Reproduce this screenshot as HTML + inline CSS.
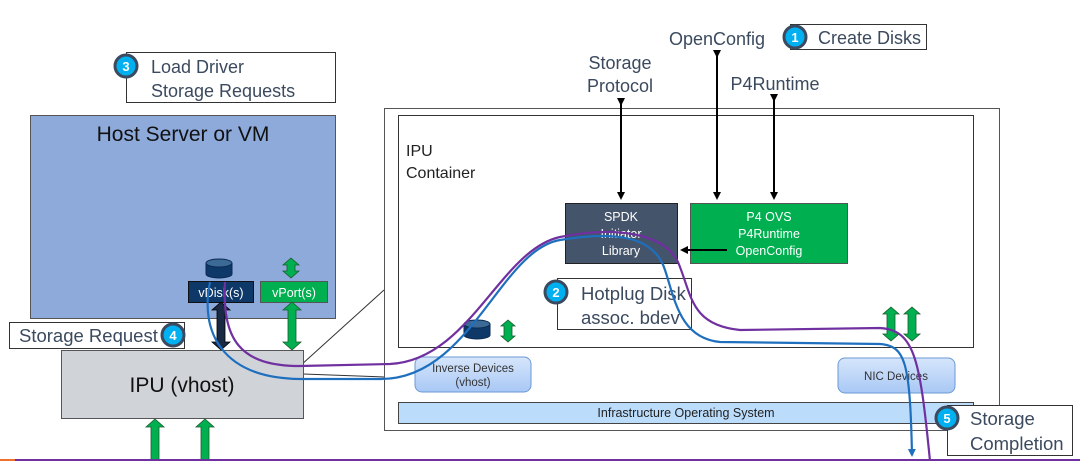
<!DOCTYPE html>
<html><head><style>
body{margin:0;width:1080px;height:461px;overflow:hidden;background:#fff;font-family:"Liberation Sans",sans-serif;}
</style></head><body>
<svg width="1080" height="461" viewBox="0 0 1080 461" xmlns="http://www.w3.org/2000/svg" font-family="Liberation Sans, sans-serif">
<defs>
<marker id="ah" markerWidth="8" markerHeight="8" refX="6" refY="4" orient="auto" markerUnits="userSpaceOnUse"><path d="M0,0 L8,4 L0,8 z" fill="#000"/></marker>
<marker id="ahb" markerWidth="8" markerHeight="8" refX="6" refY="4" orient="auto" markerUnits="userSpaceOnUse"><path d="M0,0 L8,4 L0,8 z" fill="#1f6fbf"/></marker>
<linearGradient id="bg" x1="0" y1="0" x2="0" y2="1"><stop offset="0" stop-color="#d6e6fb"/><stop offset="1" stop-color="#a9c8f5"/></linearGradient>
</defs>
<rect x="384.5" y="108.5" width="615" height="322" fill="#fff" stroke="#555"/>
<rect x="398.5" y="115.5" width="575" height="232" fill="#fff" stroke="#333"/>
<text x="406" y="156" font-size="16" fill="#222">IPU</text>
<text x="406" y="178" font-size="16" fill="#222">Container</text>
<rect x="398.5" y="402.5" width="575" height="21" fill="#bcdcfb" stroke="#444"/>
<text x="686" y="417" font-size="12.5" text-anchor="middle" fill="#222">Infrastructure Operating System</text>
<rect x="415" y="357" width="116" height="35" rx="7" fill="url(#bg)" stroke="#6a9ad4"/>
<text x="473" y="372" font-size="11.5" text-anchor="middle" fill="#333">Inverse Devices</text>
<text x="473" y="386" font-size="11.5" text-anchor="middle" fill="#333">(vhost)</text>
<rect x="838" y="358" width="117" height="35" rx="7" fill="url(#bg)" stroke="#6a9ad4"/>
<text x="896" y="380" font-size="11.5" text-anchor="middle" fill="#333">NIC Devices</text>
<rect x="30.5" y="115.5" width="305" height="203" fill="#8eaadb" stroke="#555"/>
<text x="183" y="141" font-size="21" text-anchor="middle" fill="#111">Host Server or VM</text>
<rect x="188.5" y="281.5" width="65" height="21" fill="#0d3868" stroke="#111"/>
<text x="221" y="297" font-size="12.5" text-anchor="middle" fill="#fff">vDisk(s)</text>
<rect x="260.5" y="281.5" width="67" height="21" fill="#00b050" stroke="#555"/>
<text x="294" y="297" font-size="12.5" text-anchor="middle" fill="#fff">vPort(s)</text>
<line x1="290" y1="375" x2="384" y2="290" stroke="#333"/>
<line x1="303" y1="374" x2="384" y2="377" stroke="#333"/>
<rect x="61.5" y="350.5" width="242" height="68" fill="#d0d4d9" stroke="#555"/>
<text x="182" y="392" font-size="21" text-anchor="middle" fill="#111">IPU (vhost)</text>
<rect x="565.5" y="203.5" width="112" height="60" fill="#44546a" stroke="#222"/>
<text x="621" y="221" font-size="12.5" text-anchor="middle" fill="#fff">SPDK</text>
<text x="621" y="238" font-size="12.5" text-anchor="middle" fill="#fff">Initiator</text>
<text x="621" y="255" font-size="12.5" text-anchor="middle" fill="#fff">Library</text>
<rect x="690.5" y="203.5" width="157" height="60" fill="#00b050" stroke="#555"/>
<text x="769" y="221" font-size="12.5" text-anchor="middle" fill="#fff">P4 OVS</text>
<text x="769" y="238" font-size="12.5" text-anchor="middle" fill="#fff">P4Runtime</text>
<text x="769" y="255" font-size="12.5" text-anchor="middle" fill="#fff">OpenConfig</text>
<line x1="621" y1="104" x2="621" y2="198" stroke="#000" stroke-width="2" marker-start="url(#ah)" marker-end="url(#ah)"/>
<line x1="717" y1="56" x2="717" y2="198" stroke="#000" stroke-width="2" marker-start="url(#ah)" marker-end="url(#ah)"/>
<line x1="774" y1="100" x2="774" y2="198" stroke="#000" stroke-width="2" marker-start="url(#ah)" marker-end="url(#ah)"/>
<line x1="727" y1="250" x2="682" y2="250" stroke="#000" stroke-width="2" marker-end="url(#ah)"/>
<text x="620" y="69" font-size="18" text-anchor="middle" fill="#3b4a5e">Storage</text>
<text x="620" y="92" font-size="18" text-anchor="middle" fill="#3b4a5e">Protocol</text>
<text x="717" y="45" font-size="18" text-anchor="middle" fill="#3b4a5e">OpenConfig</text>
<text x="775" y="90" font-size="18" text-anchor="middle" fill="#3b4a5e">P4Runtime</text>
<rect x="790.5" y="24.5" width="136" height="25" fill="#fff" stroke="#333"/>
<text x="818" y="44" font-size="18" fill="#3b4a5e">Create Disks</text>
<rect x="126.5" y="52.5" width="209" height="50" fill="#fff" stroke="#333"/>
<text x="151" y="73" font-size="18" fill="#3b4a5e">Load Driver</text>
<text x="151" y="97" font-size="18" fill="#3b4a5e">Storage Requests</text>
<rect x="9.5" y="322.5" width="175" height="26" fill="#fff" stroke="#333"/>
<text x="19" y="342" font-size="18.5" fill="#3b4a5e">Storage Request</text>
<rect x="557.5" y="278.5" width="134" height="51" fill="#fff" stroke="#333"/>
<text x="581" y="300" font-size="18.5" fill="#3b4a5e">Hotplug Disk</text>
<text x="581" y="324" font-size="18.5" fill="#3b4a5e">assoc. bdev</text>
<rect x="947.5" y="405.5" width="125" height="50" fill="#fff" stroke="#333"/>
<text x="970" y="425" font-size="18.5" fill="#3b4a5e">Storage</text>
<text x="970" y="450" font-size="18.5" fill="#3b4a5e">Completion</text>
<g font-size="13" font-weight="bold" fill="#fff" text-anchor="middle">
<circle cx="795" cy="37" r="11" fill="#00b0f0" stroke="#3b4a5e" stroke-width="3"/><text x="795" y="42">1</text>
<circle cx="126" cy="66" r="11" fill="#00b0f0" stroke="#3b4a5e" stroke-width="3"/><text x="126" y="71">3</text>
<circle cx="173" cy="335" r="11" fill="#00b0f0" stroke="#3b4a5e" stroke-width="3"/><text x="173" y="340">4</text>
<circle cx="556" cy="292" r="11" fill="#00b0f0" stroke="#3b4a5e" stroke-width="3"/><text x="556" y="297">2</text>
<circle cx="947" cy="418" r="11" fill="#00b0f0" stroke="#3b4a5e" stroke-width="3"/><text x="947" y="423">5</text>
</g>
<g fill="#00b050" stroke="#1a5a2a" stroke-width="0.8">
<path d="M291,258 l8,7 h-4 v6 h4 l-8,7 l-8,-7 h4 v-6 h-4 z"/>
<path d="M292,302 l9,8 h-5 v32 h5 l-9,8 l-9,-8 h5 v-32 h-5 z"/>
<path d="M155,419 l9,8 h-5 v34 h-8 v-34 h-5 z"/>
<path d="M205,419 l9,8 h-5 v34 h-8 v-34 h-5 z"/>
<path d="M508,320 l7,6 h-3 v10 h3 l-7,6 l-7,-6 h3 v-10 h-3 z"/>
<path d="M891,307 l8,7 h-4 v20 h4 l-8,7 l-8,-7 h4 v-20 h-4 z"/>
<path d="M912,307 l8,7 h-4 v20 h4 l-8,7 l-8,-7 h4 v-20 h-4 z"/>
</g>
<path d="M221,302 l9,8 h-5 v32 h5 l-9,8 l-9,-8 h5 v-32 h-5 z" fill="#1b2a44" stroke="#000" stroke-width="0.8"/>
<g fill="#0d3868" stroke="#0a2a50">
<path d="M206,263 v11 a13,4 0 0 0 26,0 v-11"/><ellipse cx="219" cy="263" rx="13" ry="4" fill="#3c6a96"/>
<path d="M464,324 v11 a13,4 0 0 0 26,0 v-11"/><ellipse cx="477" cy="324" rx="13" ry="4" fill="#3c6a96"/>
</g>
<path d="M210,282 C200,330 220,378 300,379 L380,379 C470,380 500,250 560,240 C620,230 655,238 665,270 C675,300 680,338 720,342 L880,344 C905,346 910,360 912,455" fill="none" stroke="#1f6fbf" stroke-width="2.2" marker-end="url(#ahb)"/>
<path d="M225,282 C222,340 240,366 300,366 L390,364 C470,360 500,250 560,237 C620,225 665,235 678,262 C692,295 690,325 740,330 L880,328 C915,330 920,360 930,461" fill="none" stroke="#7030a0" stroke-width="2.2"/>
<line x1="0" y1="460" x2="1080" y2="460" stroke="#7030a0" stroke-width="2"/>
<line x1="0" y1="460" x2="15" y2="460" stroke="#f07030" stroke-width="2"/>
</svg>
</body></html>
